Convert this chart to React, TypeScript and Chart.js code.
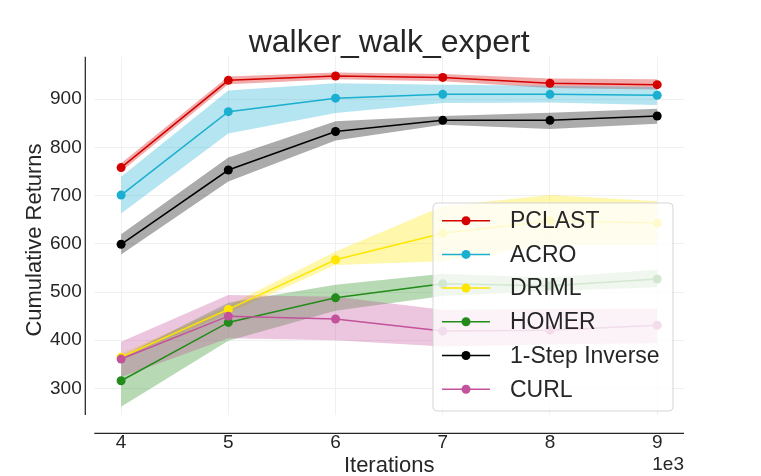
import React, { useEffect, useRef } from 'react'
import { Chart, registerables } from 'chart.js'

Chart.register(...registerables)

const FONT = '"Liberation Sans", Arial, sans-serif'
const TEXT = '#262626'

// iterations are in units of 1e3
const iterations = [4, 5, 6, 7, 8, 9]
const xTicks = [4, 5, 6, 7, 8, 9]
const yTicks = [300, 400, 500, 600, 700, 800, 900]

const methods = ['PCLAST', 'ACRO', 'DRIML', 'HOMER', '1-Step Inverse', 'CURL']
const colors = ['#d40000', '#1aafd0', '#ffe600', '#238b1a', '#000000', '#c2529c']

const pclastMean = [758, 939, 948, 945, 933, 930]
const pclastLow = [750, 931, 941, 937, 923, 920]
const pclastHigh = [767, 947, 955, 952, 943, 941]

const acroMean = [701, 874, 902, 910, 910, 908]
const acroLow = [663, 829, 871, 892, 893, 888]
const acroHigh = [739, 918, 933, 930, 928, 925]

const drimlMean = [365, 464, 567, 622, 648, 643]
const drimlLow = [358, 456, 556, 564, 598, 598]
const drimlHigh = [372, 472, 584, 678, 701, 688]

const homerMean = [316, 437, 488, 517, 513, 527]
const homerLow = [262, 399, 461, 492, 502, 510]
const homerHigh = [366, 478, 515, 538, 530, 546]

const inverseMean = [599, 753, 833, 856, 856, 865]
const inverseLow = [578, 729, 814, 847, 838, 849]
const inverseHigh = [620, 779, 854, 865, 872, 880]

const curlMean = [361, 450, 444, 419, 421, 431]
const curlLow = [324, 404, 400, 387, 391, 394]
const curlHigh = [397, 494, 490, 463, 465, 466]

const means = [pclastMean, acroMean, drimlMean, homerMean, inverseMean, curlMean]
const lows = [pclastLow, acroLow, drimlLow, homerLow, inverseLow, curlLow]
const highs = [pclastHigh, acroHigh, drimlHigh, homerHigh, inverseHigh, curlHigh]

function alpha(hex: string, a: number) {
  const n = parseInt(hex.slice(1), 16)
  return `rgba(${(n >> 16) & 255}, ${(n >> 8) & 255}, ${n & 255}, ${a})`
}

function pts(values: number[]) {
  return values.map((y, i) => ({ x: iterations[i], y }))
}

function buildDatasets() {
  const sets: any[] = []
  const order = [5, 4, 3, 2, 1, 0]
  // lines first: index 0 is painted last, so CURL goes on top
  order.forEach((i) => {
    sets.push({
      label: methods[i],
      data: pts(means[i]),
      borderColor: colors[i],
      backgroundColor: colors[i],
      borderWidth: 1.5,
      pointRadius: 4.5,
      pointBorderWidth: 0,
      pointBackgroundColor: colors[i],
      fill: false,
    })
  })
  order.forEach((i) => {
    const lowIndex = sets.length
    sets.push({
      label: methods[i] + ' low',
      data: pts(lows[i]),
      borderColor: 'transparent',
      borderWidth: 0,
      pointRadius: 0,
      fill: false,
    })
    sets.push({
      label: methods[i] + ' high',
      data: pts(highs[i]),
      borderColor: 'transparent',
      borderWidth: 0,
      pointRadius: 0,
      backgroundColor: alpha(colors[i], 0.33),
      fill: { target: lowIndex },
    })
  })
  return sets
}

const decorations = {
  id: 'decorations',
  afterDraw(chart: any) {
    const { ctx, chartArea } = chart
    const { left, right, top, bottom } = chartArea
    ctx.save()

    // offset spines
    ctx.strokeStyle = TEXT
    ctx.lineWidth = 1.25
    ctx.beginPath()
    ctx.moveTo(left - 9, top)
    ctx.lineTo(left - 9, bottom)
    ctx.moveTo(left, bottom + 18.3)
    ctx.lineTo(right, bottom + 18.3)
    ctx.stroke()

    ctx.fillStyle = TEXT
    ctx.textBaseline = 'middle'

    ctx.font = `32px ${FONT}`
    ctx.textAlign = 'center'
    ctx.fillText('walker_walk_expert', (left + right) / 2, 43)

    ctx.font = `22px ${FONT}`
    ctx.fillText('Iterations', (left + right) / 2, 466)

    ctx.save()
    ctx.translate(35, 240)
    ctx.rotate(-Math.PI / 2)
    ctx.fillText('Cumulative Returns', 0, 0)
    ctx.restore()

    ctx.font = `19px ${FONT}`
    ctx.textAlign = 'right'
    ctx.fillText('1e3', right, 465)

    // legend
    const bx = 433
    const by = 203
    const bw = 240
    const bh = 208
    ctx.beginPath()
    ctx.roundRect(bx, by, bw, bh, 4)
    ctx.fillStyle = 'rgba(255, 255, 255, 0.8)'
    ctx.fill()
    ctx.strokeStyle = 'rgba(210, 210, 210, 0.9)'
    ctx.lineWidth = 1
    ctx.stroke()

    ctx.font = `23px ${FONT}`
    ctx.textAlign = 'left'
    methods.forEach((name, i) => {
      const y = 220.7 + i * 33.7
      ctx.strokeStyle = colors[i]
      ctx.lineWidth = 1.5
      ctx.beginPath()
      ctx.moveTo(442, y)
      ctx.lineTo(490, y)
      ctx.stroke()
      ctx.fillStyle = colors[i]
      ctx.beginPath()
      ctx.arc(466, y, 4.5, 0, Math.PI * 2)
      ctx.fill()
      ctx.fillStyle = TEXT
      ctx.fillText(name, 510, y + 1)
    })

    ctx.restore()
  },
}

function App() {
  const ref = useRef<HTMLCanvasElement>(null)

  useEffect(() => {
    const canvas = ref.current
    if (!canvas) {
      return
    }

    const chart = new Chart(canvas, {
      type: 'line',
      data: { datasets: buildDatasets() },
      options: {
        animation: false,
        responsive: true,
        maintainAspectRatio: false,
        events: [],
        layout: { padding: { top: 56.7, right: 77, left: 0, bottom: 0 } },
        plugins: {
          legend: { display: false },
          tooltip: { enabled: false },
          filler: { drawTime: 'beforeDatasetsDraw' },
        },
        scales: {
          x: {
            type: 'linear',
            min: 3.75,
            max: 9.25,
            afterBuildTicks: (scale: any) => {
              scale.ticks = xTicks.map((v) => ({ value: v }))
            },
            afterFit: (scale: any) => {
              scale.height = 61
            },
            border: { display: false },
            grid: { color: '#f0f0f0', lineWidth: 1, drawTicks: false },
            ticks: {
              padding: 16.6,
              color: TEXT,
              font: { family: FONT, size: 19 },
              maxRotation: 0,
              autoSkip: false,
            },
          },
          y: {
            type: 'linear',
            min: 245,
            max: 988,
            afterBuildTicks: (scale: any) => {
              scale.ticks = yTicks.map((v) => ({ value: v }))
            },
            afterFit: (scale: any) => {
              scale.width = 94.3
            },
            border: { display: false },
            grid: { color: '#f0f0f0', lineWidth: 1, drawTicks: false },
            ticks: {
              padding: 12.6,
              color: TEXT,
              font: { family: FONT, size: 19 },
              autoSkip: false,
            },
          },
        },
      },
      plugins: [decorations],
    })

    return () => {
      chart.destroy()
    }
  }, [])

  return (
    <div style={{ position: 'fixed', left: 0, top: 0, width: 761, height: 476, background: '#ffffff' }}>
      <canvas ref={ref}></canvas>
    </div>
  )
}

export default App
